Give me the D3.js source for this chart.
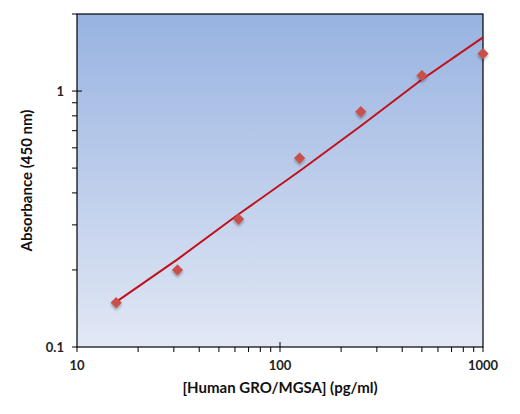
<!DOCTYPE html>
<html><head><meta charset="utf-8">
<script src="https://cdn.jsdelivr.net/npm/d3@7"></script>
<style>html,body{margin:0;padding:0;background:#fff;}svg{display:block;}</style>
</head><body>
<script>
const concentrations = [15.6, 31.25, 62.5, 125, 250, 500, 1000];
const absorbance = [0.149, 0.20, 0.316, 0.547, 0.83, 1.15, 1.40];
const fitConc = [15.6, 31.25, 62.5, 125, 250, 500, 1000];
const fitAbs = [0.150, 0.220, 0.330, 0.487, 0.730, 1.11, 1.62];
const xTickLabels = ["10", "100", "1000"];
const yTickLabels = ["0.1", "1"];
const xTitle = "[Human GRO/MGSA] (pg/ml)";
const yTitle = "Absorbance (450 nm)";

const W = 520, H = 414;
const m = {left: 77, top: 14, right: 483, bottom: 347};
const svg = d3.select("body").append("svg").attr("width", W).attr("height", H);
const x = d3.scaleLog().domain([10, 1000]).range([m.left, m.right]);
const y = d3.scaleLog().domain([0.1, 2]).range([m.bottom, m.top]);

const defs = svg.append("defs");
const g = defs.append("linearGradient").attr("id", "bg").attr("x1", 0).attr("y1", 0).attr("x2", 0).attr("y2", 1);
g.append("stop").attr("offset", "0%").attr("stop-color", "#98b3e1");
g.append("stop").attr("offset", "100%").attr("stop-color", "#e2e8f5");
const f = defs.append("filter").attr("id", "sh").attr("x", "-50%").attr("y", "-50%").attr("width", "200%").attr("height", "200%");
f.append("feDropShadow").attr("dx", 1.5).attr("dy", 1.5).attr("stdDeviation", 1.2).attr("flood-color", "#000").attr("flood-opacity", 0.3);

svg.append("rect").attr("x", m.left).attr("y", m.top).attr("width", m.right - m.left).attr("height", m.bottom - m.top)
  .attr("fill", "url(#bg)").attr("stroke", "#000").attr("stroke-width", 1.2);

const font = "Lato, 'Open Sans', sans-serif";

// Y axis ticks
const yTicks = y.ticks();
yTicks.forEach(t => {
  const major = Math.abs(Math.log10(t) - Math.round(Math.log10(t))) < 1e-9;
  svg.append("line").attr("x1", m.left - 5).attr("x2", (major && t > 0.1) ? m.left + 5 : m.left)
    .attr("y1", y(t)).attr("y2", y(t)).attr("stroke", "#000").attr("stroke-width", 1);
});
yTickLabels.forEach(l => {
  svg.append("text").attr("x", 64).attr("y", y(+l)).attr("dy", "0.35em").attr("text-anchor", "end")
    .attr("font-family", font).attr("font-weight", "bold").attr("font-size", 13).attr("fill", "#222").text(l);
});
// X axis ticks
const xTicks = x.ticks();
xTicks.forEach(t => {
  const major = Math.abs(Math.log10(t) - Math.round(Math.log10(t))) < 1e-9;
  svg.append("line").attr("x1", x(t)).attr("x2", x(t))
    .attr("y1", (major && t > 10 && t < 1000) ? m.bottom - 5 : m.bottom).attr("y2", m.bottom + 5)
    .attr("stroke", "#000").attr("stroke-width", 1);
});
xTickLabels.forEach(l => {
  svg.append("text").attr("x", x(+l)).attr("y", 370).attr("text-anchor", "middle")
    .attr("font-family", font).attr("font-weight", "bold").attr("font-size", 13).attr("fill", "#222").text(l);
});

// Fit line
const line = d3.line().x((d, i) => x(fitConc[i])).y(d => y(d)).curve(d3.curveLinear);
svg.append("path").attr("d", line(fitAbs)).attr("fill", "none").attr("stroke", "#c0101a").attr("stroke-width", 2);

// Markers
const sym = d3.symbol().type(d3.symbolSquare).size(64);
svg.selectAll(".pt").data(absorbance).enter().append("path")
  .attr("d", sym).attr("transform", (d, i) => `translate(${x(concentrations[i])},${y(d)}) rotate(45)`)
  .attr("fill", "#c9504c").attr("filter", "url(#sh)");

// Titles
svg.append("text").attr("x", 280).attr("y", 393).attr("text-anchor", "middle")
  .attr("font-family", font).attr("font-weight", "bold").attr("font-size", 15).attr("fill", "#111").text(xTitle);
svg.append("text").attr("transform", `translate(32,${(m.top + m.bottom) / 2}) rotate(-90)`).attr("text-anchor", "middle")
  .attr("font-family", font).attr("font-weight", "bold").attr("font-size", 15).attr("fill", "#111").text(yTitle);
</script>
</body></html>
